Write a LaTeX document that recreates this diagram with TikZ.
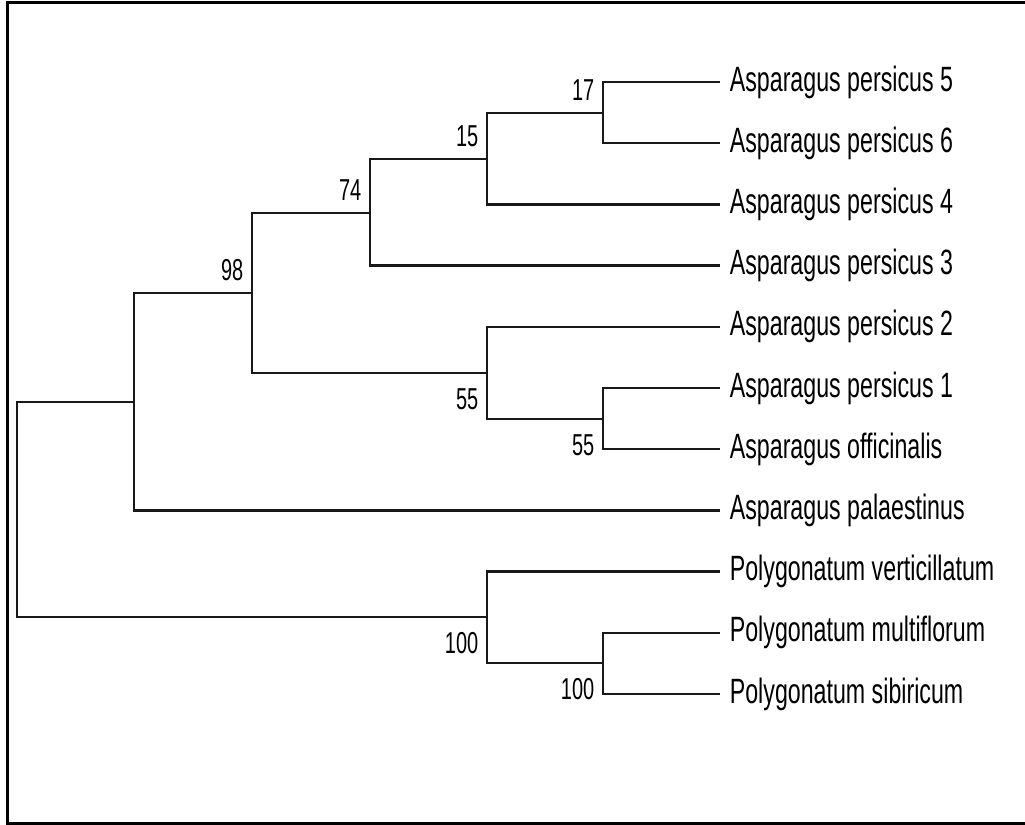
\documentclass[tikz,border=0pt]{standalone}
\usepackage{fontspec}
\setmainfont{Liberation Sans}
\newfontfamily\treefont[FakeStretch=0.66]{Liberation Sans}
\usepackage{tikz}

\tikzset{
  branch/.style={line width=0.7pt, black!90},
  taxon/.style={anchor=west, inner xsep=2.6pt, inner ysep=0pt,
    font=\treefont\fontsize{10}{12}\selectfont},
  boot/.style={inner sep=0pt, font=\treefont\fontsize{8.6}{10}\selectfont},
  bootup/.style={boot, anchor=south east, xshift=-2.3pt, yshift=3.4pt},
  bootdown/.style={boot, anchor=north east, xshift=-2.3pt, yshift=-4.3pt},
}

\begin{document}
\begin{tikzpicture}[x=0.01cm, y=-0.01cm]
\useasboundingbox (0,0) rectangle (1025,825);
%%%%%%%%%%%%%%%%%%Draw The Frame%%%%%%%%%%%%%%%
\draw[line width=1pt] (1025,2.5) -- (7.5,2.5) -- (7.5,823.5) -- (1025,823.5);

%%%%%%%%%%%%%%%%%%Place The Taxa%%%%%%%%%%%%%%%
\foreach \txt [count=\i] in {Asparagus persicus 5, Asparagus persicus 6,
    Asparagus persicus 4, Asparagus persicus 3, Asparagus persicus 2,
    Asparagus persicus 1, Asparagus officinalis, Asparagus palaestinus,
    Polygonatum verticillatum, Polygonatum multiflorum, Polygonatum sibiricum}
  \node[taxon] (t\i) at (720, {82 + 61.2*(\i-1)}) {\txt};

%%%%%%%%%%%%%%%%%%Internal Nodes%%%%%%%%%%%%%%%
\coordinate (root) at (17,509.5);
\coordinate (asp)  at (134,402);
\coordinate (n98)  at (252,293);
\coordinate (n74)  at (370,213);
\coordinate (n15)  at (487,159);
\coordinate (n17)  at (603,113);
\coordinate (n55a) at (487,373);
\coordinate (n55b) at (603,419);
\coordinate (poly) at (487,617);
\coordinate (n100) at (603,663);

%%%%%%%%%%%%%%%%%%Draw The Branches%%%%%%%%%%%%%%%
\draw[branch] (t1.west) -| (n17) |- (t2.west);
\draw[branch] (n17) -| (n15) |- (t3.west);
\draw[branch] (n15) -| (n74) |- (t4.west);
\draw[branch] (t6.west) -| (n55b) |- (t7.west);
\draw[branch] (t5.west) -| (n55a) |- (n55b);
\draw[branch] (n74) -| (n98) |- (n55a);
\draw[branch] (n98) -| (asp) |- (t8.west);
\draw[branch] (t10.west) -| (n100) |- (t11.west);
\draw[branch] (t9.west) -| (poly) |- (n100);
\draw[branch] (asp) -| (root) |- (poly);

%%%%%%%%%%%%%%%%%%Bootstrap Values%%%%%%%%%%%%%%%
\node[bootup] (b17) at (n17) {17};
\node[bootup] (b15) at (n15) {15};
\node[bootup] (b74) at (n74) {74};
\node[bootup] (b98) at (n98) {98};
\node[bootdown] (b55a) at (n55a) {55};
\node[bootdown] (b55b) at (n55b) {55};
\node[bootdown] (b100a) at (poly) {100};
\node[bootdown] (b100b) at (n100) {100};

\end{tikzpicture}
\end{document}
